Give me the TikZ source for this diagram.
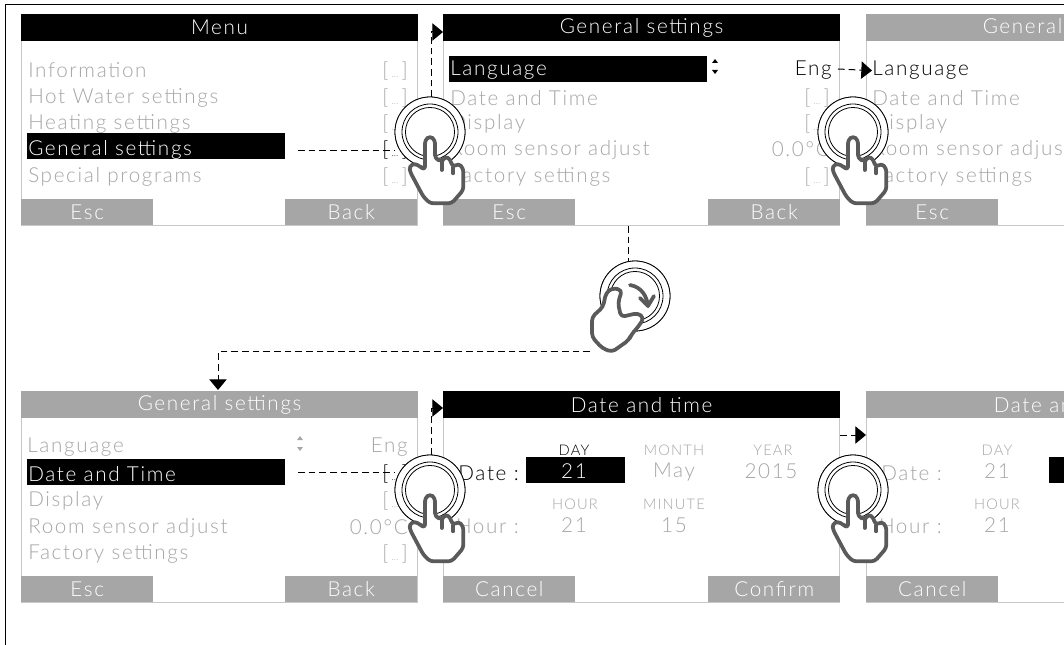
\documentclass[tikz,border=0pt]{standalone}
\usepackage{fontspec}
\setmainfont[LetterSpace=8,UprightFont=* Light]{Lato}
\usetikzlibrary{arrows.meta,calc}
\definecolor{dim}{HTML}{A6A6A6}
\definecolor{hand}{HTML}{5A5A5A}
\newcommand\fsA{\fontsize{15.5pt}{15.5pt}\selectfont}
\newcommand\fsB{\fontsize{11pt}{11pt}\selectfont}
\newcommand\brk{[\kern2.5pt{\fontsize{7pt}{7pt}\selectfont\addfontfeature{LetterSpace=0}...}\kern2.5pt]}
\tikzset{
 x=0.75pt,y=-0.75pt,
 panel/.style={draw=black!22,line width=.75pt,fill=white,minimum width=297pt,minimum height=158pt,anchor=north west,inner sep=0},
 bar/.style={fill=#1,minimum width=297.5pt,minimum height=20pt,anchor=north west,inner sep=0,text=white,font=\fsA},
 softkey/.style={fill=dim,minimum width=99pt,minimum height=19.5pt,anchor=north west,inner sep=0,text=white,font=\fsA},
 rowl/.style={anchor=west,inner sep=0,text=dim,font=\fsA,yshift=-1.2pt},
 rowr/.style={anchor=east,inner sep=0,text=dim,font=\fsA,yshift=-1.2pt},
 picklab/.style={inner sep=0,text=dim,font=\fsB},
 pickval/.style={inner sep=0,text=dim,font=\fsA},
 selbar/.style={fill=black,anchor=north west,minimum width=193.5pt,minimum height=19.5pt,inner sep=0},
 ring/.style={circle,draw=black,line width=.6pt,fill=white,minimum size=52.5pt,inner sep=0},
 flow/.style={draw=black,line width=.75pt,dash pattern=on 5pt off 3pt},
 tip/.style={-{Triangle[length=8pt,width=13pt]}},
 pics/finger/.style={code={
  \begin{scope}[x=0.25pt,y=-0.25pt,shift={(0,-11)}]
   \draw[hand,fill=white,line width=2.8pt,line join=round,rounded corners=2.5pt]
    (-15,35) -- (-15,125) -- (-45,105) -- (-62,113) -- (-60,130) -- (-20,205) -- (0,225) -- (65,225) -- (100,185) -- (100,120) -- (85,105) -- (70,117) -- (55,85) -- (40,90) -- (35,100) -- (15,90) -- (15,35) -- (0,23) -- cycle;
   \draw[hand,line width=2.8pt,line cap=round] (35,100) -- (35,125) (70,117) -- (70,135);
  \end{scope}}},
 pics/rings/.style={code={
  \draw[line width=.6pt] (0,0) circle[radius=21pt];
  \draw[line width=.6pt] (0,0) circle[radius=18.4pt];}},
}
\newcommand\screen[6]{% id, x, y, head colour, title, left key
 \node[panel] (#1) at (#2,#3) {};
 \node[bar=#4] (#1h) at (#2,#3) {#5};
 \node[softkey] (#1a) at (#2,#3+185) {#6};
}
\newcommand\uarrows[3]{% x y colour
 \fill[#3] (#1-3,#2-6) -- (#1+3,#2-6) -- (#1,#2-10) -- cycle;
 \fill[#3] (#1-3,#2+1) -- (#1+3,#2+1) -- (#1,#2+5) -- cycle;
}
\begin{document}
\begin{tikzpicture}
\useasboundingbox (0,0) rectangle (1064,645);
\clip (0,0) rectangle (1064,645);
\fill[white] (0,0) rectangle (1064,645);
\draw[black,line width=.75pt] (5,645) -- (5,5) -- (1064,5);
% screens
\screen{m}{21}{14}{black}{Menu}{Esc}
\node[softkey] (mb) at (285,199) {Back};
\screen{g}{443}{14}{black}{General settings}{Esc}
\node[softkey] (gb) at (708,199) {Back};
\screen{k}{866}{14}{dim}{General settings}{Esc}
\screen{n}{21}{391}{dim}{General settings}{Esc}
\node[softkey] (nb) at (285,576) {Back};
\screen{d}{443}{391}{black}{Date and time}{Cancel}
\node[softkey] (db) at (708,576) {Confirm};
\screen{e}{866}{391}{dim}{Date and time}{Cancel}
% menu rows
\node[rowl] (m1) at (28,69) {Information};
\node[rowl] (m2) at (28,96) {Hot Water settings};
\node[rowl] (m3) at (28,122) {Heating settings};
\node[selbar] (msel) at (27,133) {};
\node[rowl,text=white] (m4) at (28,148) {General settings};
\node[rowl] (m5) at (28,175) {Special programs};
\node[rowr] at (408,69) {\brk};
\node[rowr] at (408,96) {\brk};
\node[rowr] at (408,122) {\brk};
\node[rowr,text=black] at (408,148) {\brk};
\node[rowr] at (408,175) {\brk};
% general settings
\node[selbar] (gsel) at (449,56) {};
\node[rowl,text=white] at (450,69) {Language};
\node[rowl] at (450,96) {Date and Time};
\node[rowl] at (450,122) {Display};
\node[rowl] at (450,148) {Room sensor adjust};
\node[rowl] at (450,175) {Factory settings};
\uarrows{715}{69}{black}
\node[rowr,text=black] (eng) at (832,69) {Eng};
\node[rowr] at (830,96) {\brk};
\node[rowr] at (830,122) {\brk};
\node[rowr] at (830,148) {0.0°C};
\node[rowr] at (830,175) {\brk};
% third screen
\node[rowl,text=black] (lang) at (872,69) {Language};
\node[rowl] at (872,96) {Date and Time};
\node[rowl] at (872,122) {Display};
\node[rowl] at (872,148) {Room sensor adjust};
\node[rowl] at (872,175) {Factory settings};
% lower-left
\node[rowl] at (27,446) {Language};
\node[selbar] (nsel) at (27,459) {};
\node[rowl,text=white] at (28,472) {Date and Time};
\node[rowl] at (28,499) {Display};
\node[rowl] at (28,526) {Room sensor adjust};
\node[rowl] at (28,552) {Factory settings};
\uarrows{300}{446}{dim}
\node[rowr] at (408,446) {Eng};
\node[rowr,text=black] at (408,472) {\brk};
\node[rowr] at (408,499) {\brk};
\node[rowr] at (408,526) {0.0°C};
\node[rowr] at (408,552) {\brk};
% date and time
\node[rowr,text=black] at (519,472) {Date :};
\node[rowr] at (519,525) {Hour :};
\node[picklab,text=black] at (574,450) {DAY};
\node[fill=black,minimum width=74pt,minimum height=19.5pt,inner sep=0,anchor=north west] (dsel) at (526,457) {};
\node[pickval,text=white] at (574,471) {21};
\node[picklab] at (674,450) {MONTH};
\node[pickval] at (674,472) {May};
\node[picklab] at (773,450) {YEAR};
\node[pickval] at (771,471) {2015};
\node[picklab] at (575,504) {HOUR};
\node[pickval] at (574,525) {21};
\node[picklab] at (674,504) {MINUTE};
\node[pickval] at (674,525) {15};
% date and time, second
\node[rowr] at (942,472) {Date :};
\node[rowr] at (942,525) {Hour :};
\node[picklab] at (997,450) {DAY};
\node[pickval] at (997,471) {21};
\node[fill=black,minimum width=60pt,minimum height=19.5pt,inner sep=0,anchor=north west] (esel) at (1049,457) {};
\node[picklab] at (997,504) {HOUR};
\node[pickval] at (997,525) {21};
% touch rings
\node[ring] (r1) at (430,132) {};
\node[ring] (r2) at (853,132) {};
\node[ring] (r3) at (430,490) {};
\node[ring] (r4) at (853,490) {};
\node[ring] (r5) at (635,296) {};
% connector ends
\coordinate (a1) at (298,151);
\coordinate (a2) at (443,32);
\coordinate (a3) at (838,69);
\coordinate (a4) at (628,226);
\coordinate (a5) at (590,352);
\coordinate (a6) at (218,390);
\coordinate (a7) at (298,472);
\coordinate (a8) at (443,408);
\coordinate (a9) at (840,435);
\coordinate (a10) at (866,435);
% connectors
\draw[flow] (a1) -- (a1 -| r1.west);
\draw[flow,tip] (431,97) |- (a2);
\draw[flow,tip] (a3) -- (lang.west);
\draw[flow] (a4) -- (a4 |- r5.north);
\draw[flow,tip] (a5) -| (a6);
\draw[flow] (a7) -- (a7 -| r3.west);
\draw[flow,tip] (431,455) |- (a8);
\draw[flow,tip] (a9) -- (a10);
% ring repaint and hands
\foreach \r in {r1,r2,r3,r4}{
 \node[ring] at (\r) {};
 \pic at (\r) {rings};
 \pic at (\r) {finger};
}
\node[ring] at (r5) {};
\pic at (r5) {rings};
\draw[hand,line width=2.8pt,line cap=round] (630,285) .. controls (642,287) and (647,297) .. (648,306);
\draw[hand,line width=2.8pt,line cap=round,line join=round] (640,298) -- (648,306) -- (654,296);
\draw[hand,fill=white,line width=2.8pt,line join=round,rounded corners=3pt]
 (612,288) -- (622,290) -- (618,303) -- (621,317) -- (638,313) -- (644,318) -- (638,327) -- (631,335) -- (629,340) -- (612,352) -- (602,348) -- (592,337) -- (592,317) -- (603,307) -- (606,293) -- cycle;
\end{tikzpicture}
\end{document}
